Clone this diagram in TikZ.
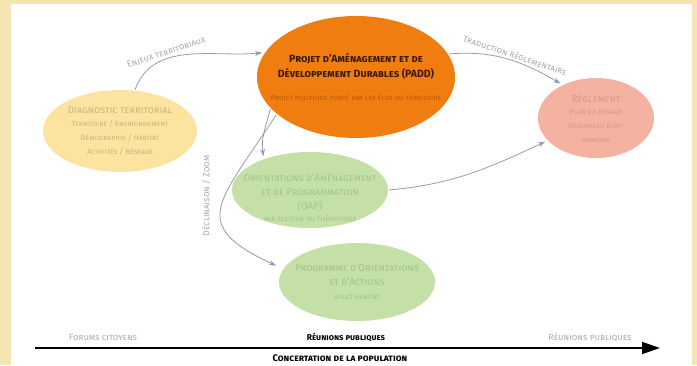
\documentclass[tikz,border=0pt]{standalone}
\usepackage{fontspec}
\setmainfont{Fira Sans}
\usetikzlibrary{shapes.geometric,arrows.meta}
\definecolor{creme}{RGB}{245,229,181}
\definecolor{jaune}{RGB}{252,227,160}
\definecolor{orangepadd}{RGB}{240,125,15}
\definecolor{rose}{RGB}{245,178,160}
\definecolor{vert}{RGB}{196,224,166}
\definecolor{fleche}{RGB}{150,156,166}
\definecolor{gristexte}{RGB}{170,170,170}
\definecolor{textejaune}{RGB}{205,178,125}
\definecolor{texterose}{RGB}{218,152,136}
\definecolor{textevert}{RGB}{160,196,140}
\definecolor{brun}{RGB}{60,25,0}
\definecolor{orangefonce}{RGB}{190,88,5}
\newcommand{\petit}{\fontsize{7.5}{12.5}\selectfont}
\tikzset{
  bulle/.style={ellipse, inner sep=-20pt, align=center, font=\fontsize{10}{14}\selectfont\scshape},
  flow/.style={-{Stealth[length=7pt,width=5pt]}, draw=fleche, line width=0.8pt, shorten >=3pt, shorten <=1pt},
  lbl/.style={text=gristexte, font=\fontsize{9}{11}\selectfont\scshape, inner sep=2pt}
}
\begin{document}
\begin{tikzpicture}[x=1pt,y=1pt]
\useasboundingbox (0,0) rectangle (697,365);
\fill[creme] (0,0) rectangle (697,365);
\fill[white] (11,0) rectangle (692,361);

\node[bulle, fill=jaune, minimum width=154pt, minimum height=82pt, text=textejaune] (diag) at (120,234)
  {Diagnostic territorial\\[-1pt]\petit Territoire / Environnement\\\petit Démographie / Habitat\\\petit Activités / Réseaux};
\node[bulle, fill=orangepadd, minimum width=198pt, minimum height=122pt, text=brun, font=\fontsize{10.5}{15}\selectfont\scshape\bfseries] (padd) at (356,288)
  {Projet d'Aménagement et de\\Développement Durables (PADD)\\[8pt]\mdseries\fontsize{7.5}{9}\selectfont\color{orangefonce}Projet politique porté par les élus du territoire};
\node[bulle, fill=rose, minimum width=116pt, minimum height=80pt, text=texterose] (regl) at (596,247)
  {Règlement\\[-2pt]\petit Plan de zonage\\\petit Règlement écrit\\\petit Annexes};
\node[bulle, fill=vert, minimum width=156pt, minimum height=76pt, text=textevert] (oap) at (310,175)
  {\rule{0pt}{24pt}Orientations d'Aménagement\\et de Programmation\\(OAP)\\[-2pt]\petit par secteur ou thématique};
\node[bulle, fill=vert, minimum width=156pt, minimum height=78pt, text=textevert] (poa) at (357,83)
  {Programme d'Orientations\\et d'Actions\\[0pt]\petit volet habitat};

\draw[flow] (diag.70) to[out=70,in=185] node[lbl, sloped, above, pos=0.36] {Enjeux territoriaux} (padd.165);
\draw[flow] (padd.14) to[out=5,in=150] node[lbl, sloped, above, pos=0.55] {Traduction réglementaire} (regl.135);
\draw[flow] (oap.east) to[out=5,in=205] (regl.205);
\draw[flow] (padd.200) to[out=255,in=100] (oap.146);
\draw[flow, shorten >=8pt] (padd.205) to[out=237,in=155, looseness=1.75] (poa.170);
\node[lbl, rotate=90] (zoom) at (206,169) {Déclinaison / Zoom};

\coordinate (axe debut) at (35,17);
\coordinate (axe fin) at (660,17);
\draw[line width=1.8pt, -{Triangle[length=18pt,width=12pt]}] (axe debut) -- (axe fin);
\node[lbl] (forums) at (103,28) {Forums citoyens};
\node[lbl, text=black, font=\fontsize{8.5}{10}\selectfont\scshape\bfseries] (reunions) at (346,28) {Réunions publiques};
\node[lbl] (reunions2) at (590,28) {Réunions publiques};
\node[font=\fontsize{9.5}{11}\selectfont\scshape\bfseries, inner sep=1pt] (concertation) at (340,7) {Concertation de la population};
\end{tikzpicture}
\end{document}
